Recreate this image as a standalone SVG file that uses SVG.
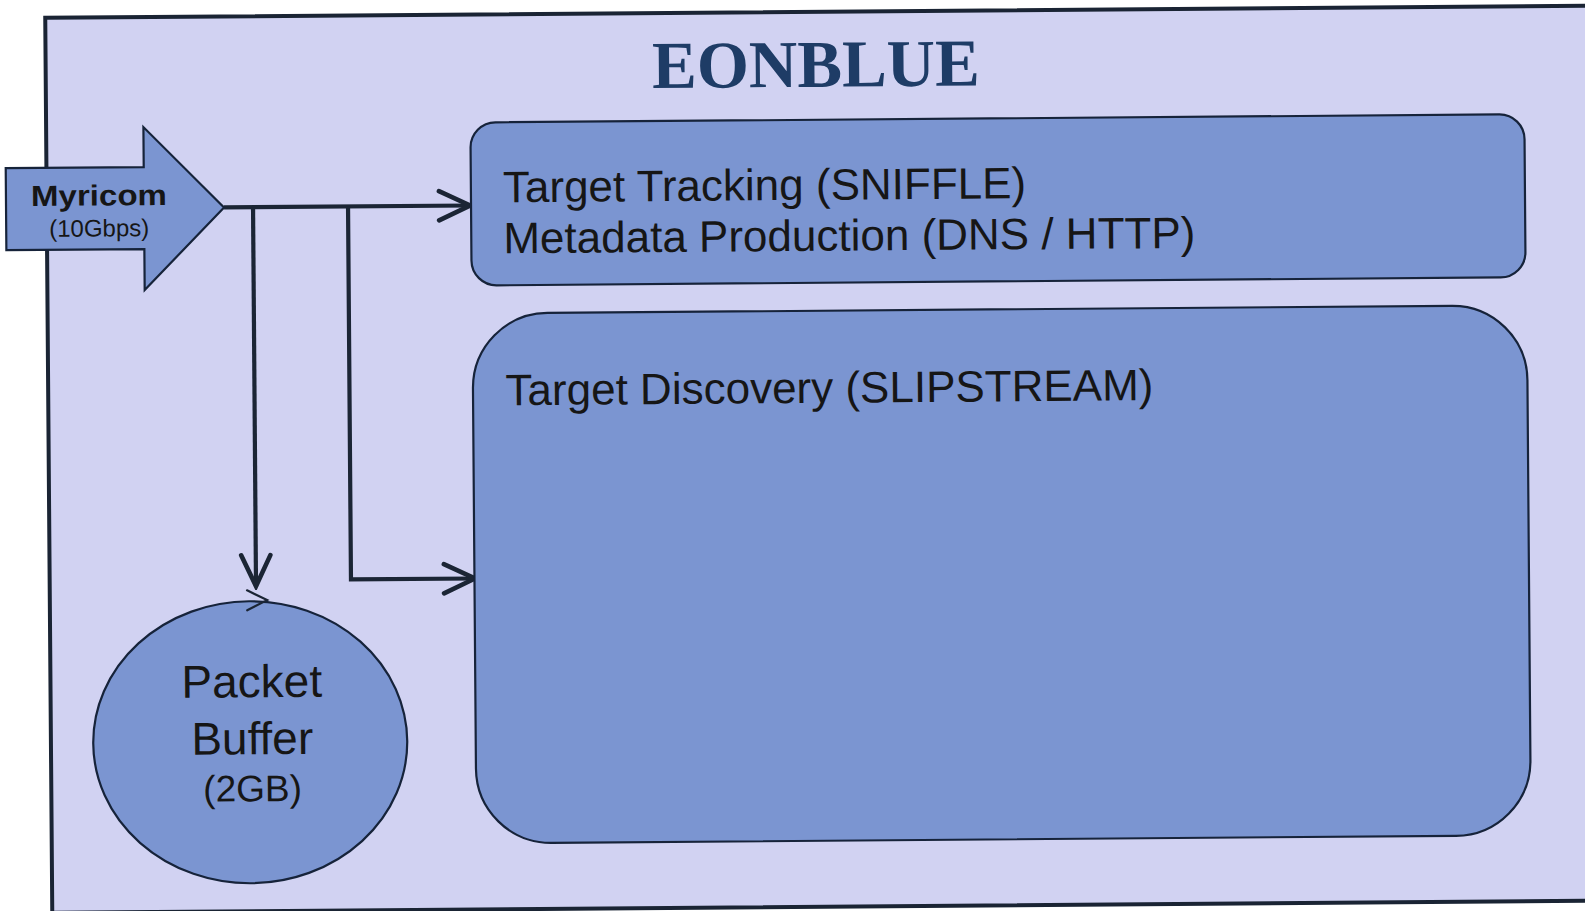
<svg xmlns="http://www.w3.org/2000/svg" width="1585" height="911" viewBox="0 0 1585 911">
  <defs>
    <style>
      .box { fill: #7b95d1; stroke: #16233a; stroke-width: 2.2; }
      .conn { fill: none; stroke: #1b2535; stroke-width: 4.2; stroke-linejoin: miter; }
      .lbl { font-family: "Liberation Sans", Arial, sans-serif; fill: #161616; }
    </style>
    <marker id="chev" viewBox="-36 -20 40 40" refX="0" refY="0" markerWidth="40" markerHeight="40" markerUnits="userSpaceOnUse" orient="auto">
      <path d="M -31 -14.6 L 0 0 L -31 14.6" fill="none" stroke="#1b2535" stroke-width="4.6" stroke-linecap="round" stroke-linejoin="miter"/>
    </marker>
  </defs>
  <rect x="0" y="0" width="1585" height="911" fill="#ffffff"/>
  <g transform="rotate(-0.45 792 455)">
    <g id="frame">
      <rect x="48.7" y="12" width="1600" height="895" fill="#d1d2f2" stroke="#1a2434" stroke-width="4"/>
      <text x="819" y="87" text-anchor="middle" font-family="Liberation Serif, 'Times New Roman', serif" font-weight="bold" font-size="67" fill="#1e3c66">EONBLUE</text>
    </g>
    <g id="connectors">
      <path class="conn" d="M 226 203 H 472" marker-end="url(#chev)"/>
      <path class="conn" d="M 255 203 V 582" marker-end="url(#chev)"/>
      <path class="conn" d="M 350 203 V 576 H 474" marker-end="url(#chev)"/>
    </g>
    <g id="myricom">
      <polygon class="box" points="8,162 146,162 146,122 226,203 146,285 146,244 8,244"/>
      <text class="lbl" x="101" y="200" text-anchor="middle" font-size="29" font-weight="bold" textLength="136" lengthAdjust="spacingAndGlyphs">Myricom</text>
      <text class="lbl" x="101" y="231" text-anchor="middle" font-size="24">(10Gbps)</text>
    </g>
    <g id="tracking">
      <rect class="box" x="473" y="120" width="1054" height="163" rx="25" ry="25"/>
      <text class="lbl" x="505" y="200" font-size="44">Target Tracking (SNIFFLE)</text>
      <text class="lbl" x="505" y="251" font-size="44">Metadata Production (DNS / HTTP)</text>
    </g>
    <g id="discovery">
      <rect class="box" x="473.5" y="311" width="1054.5" height="530" rx="75" ry="75"/>
      <text class="lbl" x="506" y="403" font-size="44">Target Discovery (SLIPSTREAM)</text>
    </g>
    <g id="buffer">
      <ellipse class="box" cx="248" cy="738" rx="157" ry="141"/>
      <path d="M 246 586 L 266 596 L 246 606" fill="none" stroke="#1b2535" stroke-width="2.2" stroke-linecap="round"/>
      <text class="lbl" x="250" y="693" text-anchor="middle" font-size="46">Packet</text>
      <text class="lbl" x="250" y="750" text-anchor="middle" font-size="46">Buffer</text>
      <text class="lbl" x="250" y="797" text-anchor="middle" font-size="37">(2GB)</text>
    </g>
  </g>
</svg>
